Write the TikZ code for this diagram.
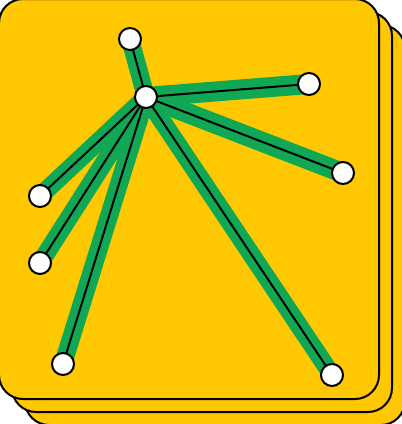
\documentclass[tikz,border=0pt]{standalone}
\definecolor{cardyellow}{HTML}{FFC800}
\definecolor{bandgreen}{HTML}{10A854}
\tikzset{
  card/.style={fill=cardyellow, draw=black, line width=2pt, rounded corners=24pt},
  band/.style={draw=bandgreen, line width=18pt},
  wideband/.style={draw=bandgreen, line width=20pt},
  link/.style={draw=black, line width=2pt},
  vert/.style={circle, fill=white, draw=black, line width=2pt, minimum size=22pt, inner sep=0pt},
}
\begin{document}
\begin{tikzpicture}[x=1pt,y=-1pt]
\useasboundingbox (0,0) rectangle (402,424);
\begin{scope}
\clip (0,0) rectangle (402,424);
\draw[card] (25,25) rectangle (405,425);
\draw[card] (12,12) rectangle (392,412);
\draw[card] (-1,-1) rectangle (379,399);
\end{scope}
\coordinate (c) at (146,97);
\coordinate (t) at (130,39);
\coordinate (rt) at (309,84);
\coordinate (r) at (343,173);
\coordinate (l1) at (40,196);
\coordinate (l2) at (40,263);
\coordinate (bl) at (63,364);
\coordinate (br) at (332,375);
\draw[band] (c) -- (t);
\draw[wideband] (c) -- (rt);
\draw[wideband] (c) -- (r);
\draw[band] (c) -- (l1);
\draw[band] (c) -- (l2);
\draw[band] (c) -- (bl);
\draw[band] (c) -- (br);
\draw[link] (c) -- (t);
\draw[link] (c) -- (rt);
\draw[link] (c) -- (r);
\draw[link] (c) -- (l1);
\draw[link] (c) -- (l2);
\draw[link] (c) -- (bl);
\draw[link] (c) -- (br);
\node[vert] (nt) at (t) {};
\node[vert] (nrt) at (rt) {};
\node[vert] (nr) at (r) {};
\node[vert] (nl1) at (l1) {};
\node[vert] (nl2) at (l2) {};
\node[vert] (nbl) at (bl) {};
\node[vert] (nbr) at (br) {};
\node[vert] (nc) at (c) {};
\end{tikzpicture}
\end{document}
